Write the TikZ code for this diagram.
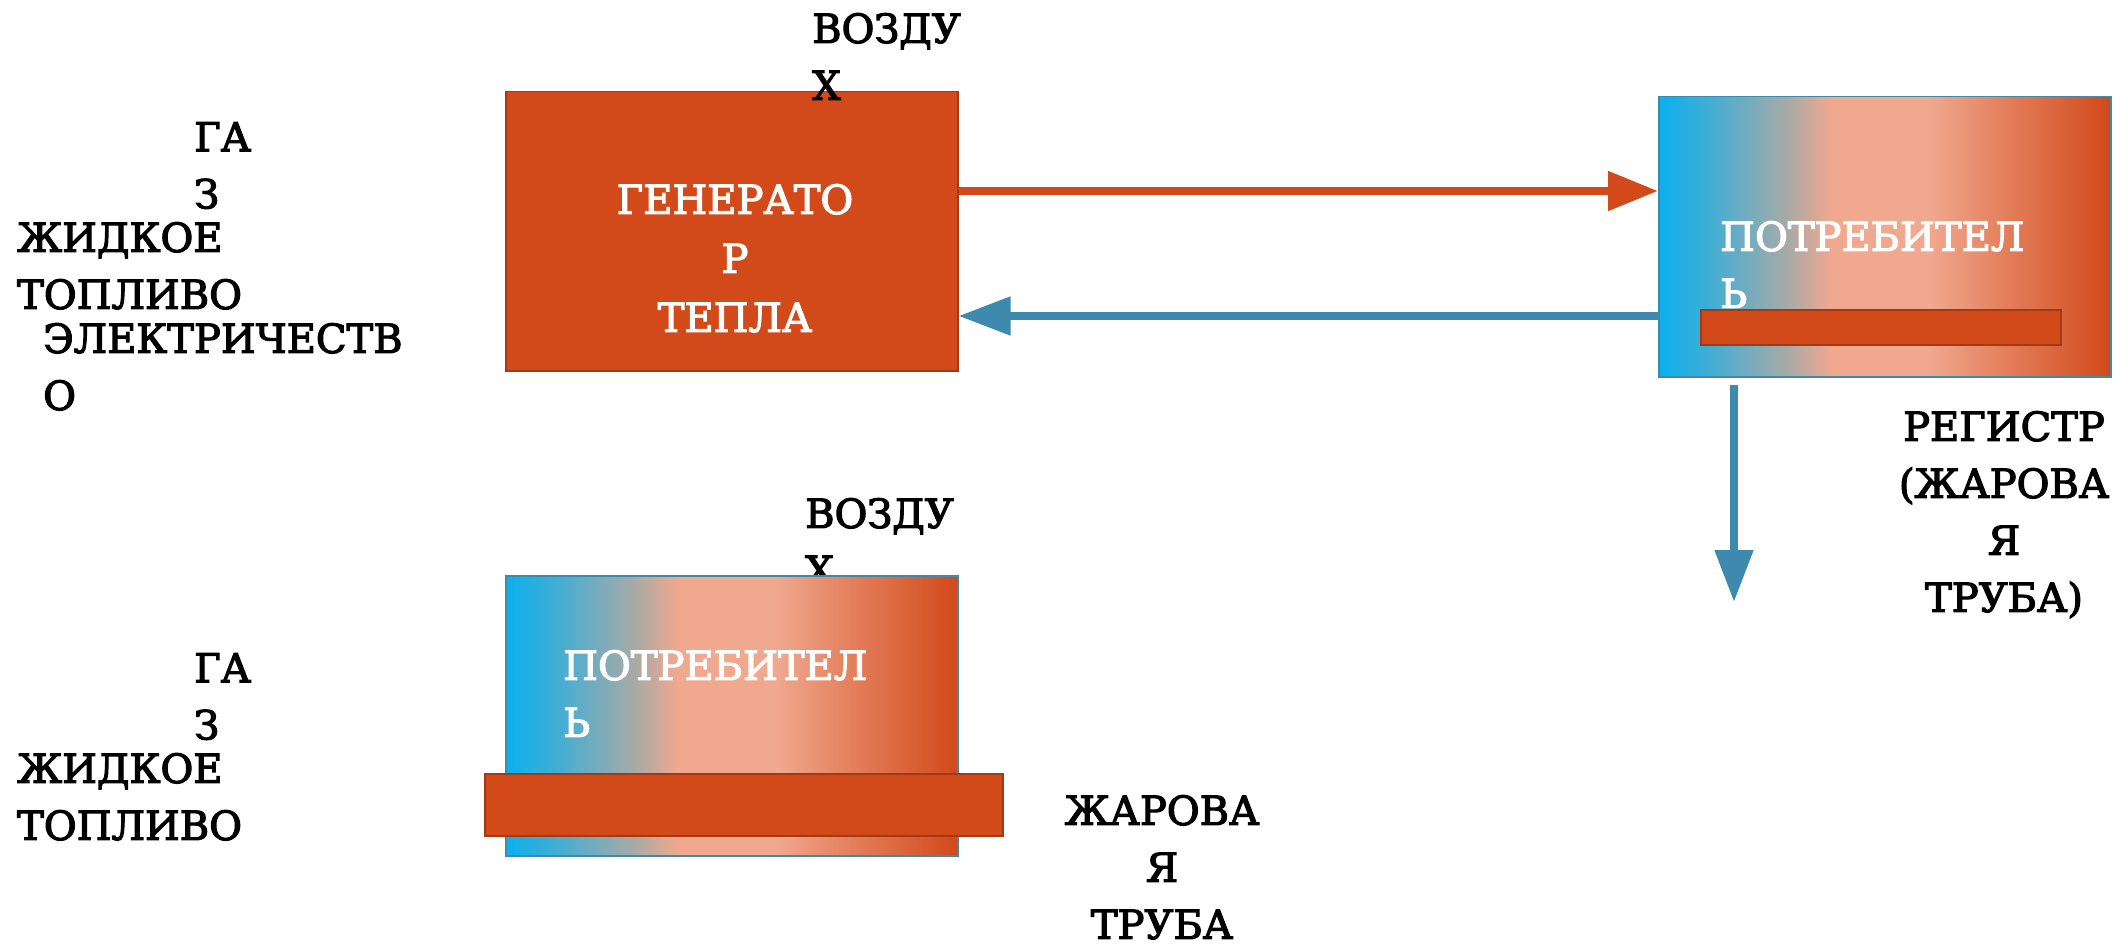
\documentclass[tikz,border=0pt]{standalone}
\usepackage{fontspec}
\setmainfont{DejaVu Serif}[FakeBold=3]
\usetikzlibrary{arrows.meta}
\definecolor{hot}{HTML}{D2491A}
\definecolor{hotedge}{HTML}{A33A16}
\definecolor{cold}{HTML}{3E8AAF}
\definecolor{cblue}{HTML}{0AB0EE}
\definecolor{cblueb}{HTML}{3AAED8}
\definecolor{cgray}{HTML}{ABAAA5}
\definecolor{csalmon}{HTML}{F0A88E}
\definecolor{cmid}{HTML}{E58563}
\pgfdeclarehorizontalshading{consgrad}{100bp}{color(0bp)=(cblue); color(25bp)=(cblue); color(30bp)=(cblueb); color(39.5bp)=(cgray); color(44bp)=(csalmon); color(55bp)=(csalmon); color(62bp)=(cmid); color(75bp)=(hot); color(100bp)=(hot)}
\tikzset{
  lbl/.style={inner sep=0pt, font=\fontsize{40}{57}\selectfont, text=black},
  wlbl/.style={lbl, text=white},
  genbox/.style={draw=hotedge, line width=1.5pt, fill=hot, inner sep=0pt, anchor=north west},
  consbox/.style={draw=cold, line width=1.5pt, shading=consgrad, inner sep=0pt, anchor=north west},
  barbox/.style={draw=hotedge, line width=1.5pt, fill=hot, inner sep=0pt, anchor=north west},
  hotarrow/.style={draw=hot, line width=8pt, -{Triangle[length=50pt,width=38pt]}},
  coldarrow/.style={draw=cold, line width=8pt, -{Triangle[length=52pt,width=37pt]}},
}
\begin{document}
\begin{tikzpicture}[x=1pt,y=-1pt]
\useasboundingbox[fill=white] (0,0) rectangle (2128,944);
% top row
\node[genbox, minimum width=452pt, minimum height=279pt] (gen) at (505,91) {};
\node[lbl, anchor=north west, align=left] (air1) at (812,13) {ВОЗДУ\\Х};
\node[lbl, anchor=north west, align=left] (gas1) at (194,122) {ГА\\З};
\node[lbl, anchor=north west, align=left] (fuel1) at (17,222) {ЖИДКОЕ\\ТОПЛИВО};
\node[lbl, anchor=north west, align=left] (elec) at (43,323) {ЭЛЕКТРИЧЕСТВ\\О};
\node[wlbl, anchor=north, align=center, font=\fontsize{40}{59}\selectfont] (gentxt) at (735,184) {ГЕНЕРАТО\\Р\\ТЕПЛА};
\node[consbox, minimum width=452pt, minimum height=280pt] (cons1) at (1658,96) {};
\node[wlbl, anchor=north west, align=left] (cons1txt) at (1720,221) {ПОТРЕБИТЕЛ\\Ь};
\node[barbox, minimum width=360pt, minimum height=35pt] (bar1) at (1700,309) {};
\node[lbl, anchor=north, align=center] (reg) at (2004,411) {РЕГИСТР\\(ЖАРОВА\\Я\\ТРУБА)};
\coordinate (ya) at (0,191);
\coordinate (yb) at (0,316);
\coordinate (dn) at (1734,602);
\draw[hotarrow] (gen.east |- ya) -- (cons1.west |- ya);
\draw[coldarrow] (cons1.west |- yb) -- (gen.east |- yb);
\draw[coldarrow] ([yshift=-7pt]cons1.south -| dn) -- (dn);
% bottom row
\node[lbl, anchor=north west, align=left] (air2) at (805,498) {ВОЗДУ\\Х};
\node[lbl, anchor=north west, align=left] (gas2) at (194,653) {ГА\\З};
\node[lbl, anchor=north west, align=left] (fuel2) at (17,753) {ЖИДКОЕ\\ТОПЛИВО};
\node[consbox, minimum width=452pt, minimum height=280pt] (cons2) at (505,575) {};
\node[wlbl, anchor=north west, align=left] (cons2txt) at (563,650) {ПОТРЕБИТЕЛ\\Ь};
\node[barbox, minimum width=518pt, minimum height=62pt] (bar2) at (484,773) {};
\node[lbl, anchor=north, align=center] (flue) at (1162,795) {ЖАРОВА\\Я\\ТРУБА};
\end{tikzpicture}
\end{document}
